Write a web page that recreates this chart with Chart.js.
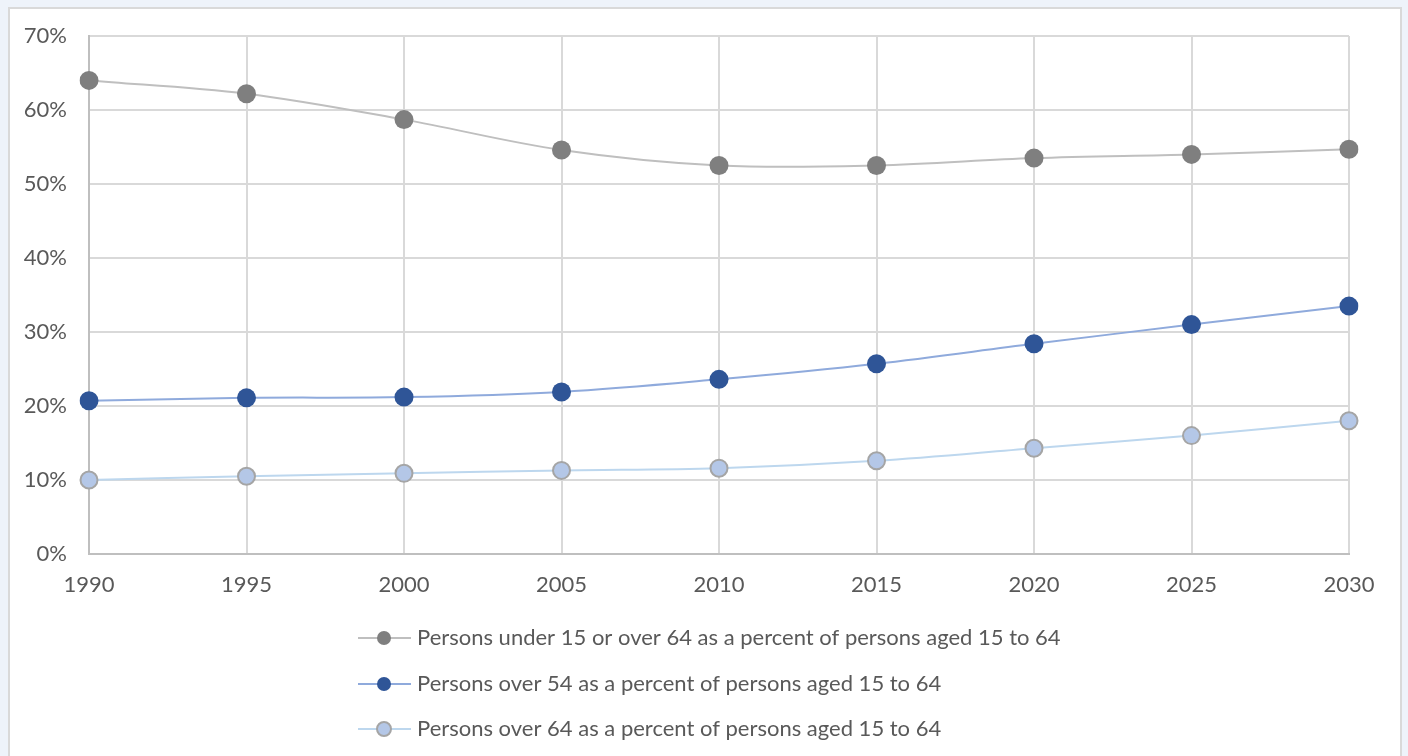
<!DOCTYPE html>
<html>
<head>
<meta charset="utf-8">
<script src="https://cdn.jsdelivr.net/npm/chart.js@4"></script>
<style>
  html, body { margin: 0; padding: 0; background: #eef3fa; }
  #card { position: absolute; left: 8px; top: 7px; width: 1394px; height: 760px; background: #fff; border: 2px solid #d9d9d9; box-sizing: border-box; }
  #wrap { position: absolute; left: 0; top: 0; width: 1408px; height: 756px; }
</style>
</head>
<body>
<div id="card"></div>
<div id="wrap"><canvas id="chart" width="1408" height="756"></canvas></div>
<script>
// years on the x axis
const years = ['1990', '1995', '2000', '2005', '2010', '2015', '2020', '2025', '2030'];

// percent values
const under15Over64 = [64.0, 62.2, 58.7, 54.6, 52.5, 52.5, 53.5, 54.0, 54.7];
const over54 = [20.7, 21.1, 21.2, 21.9, 23.6, 25.7, 28.4, 31.0, 33.5];
const over64 = [10.0, 10.5, 10.9, 11.3, 11.6, 12.6, 14.3, 16.0, 18.0];

const seriesNames = [
  'Persons under 15 or over 64 as a percent of persons aged 15 to 64',
  'Persons over 54 as a percent of persons aged 15 to 64',
  'Persons over 64 as a percent of persons aged 15 to 64'
];

const fontFamily = 'Lato, "Open Sans", sans-serif';
const textColor = '#595959';

// legend drawn under the plot, one row per series, line with marker in the middle
const stackedLegend = {
  id: 'stackedLegend',
  afterDraw(chart) {
    const ctx = chart.ctx;
    const rowsY = [638, 684, 729];
    ctx.save();
    chart.data.datasets.forEach((ds, i) => {
      const y = rowsY[i];
      ctx.strokeStyle = ds.borderColor;
      ctx.lineWidth = 2;
      ctx.beginPath();
      ctx.moveTo(358, y);
      ctx.lineTo(411, y);
      ctx.stroke();
      ctx.beginPath();
      ctx.arc(384, y, 7, 0, Math.PI * 2);
      ctx.fillStyle = ds.pointBackgroundColor;
      ctx.fill();
      if (ds.pointBorderWidth > 0) {
        ctx.lineWidth = ds.pointBorderWidth;
        ctx.strokeStyle = ds.pointBorderColor;
        ctx.stroke();
      }
      ctx.fillStyle = textColor;
      ctx.font = '22px ' + fontFamily;
      ctx.textBaseline = 'middle';
      ctx.textAlign = 'left';
      ctx.fillText(ds.label, 417, y);
    });
    ctx.restore();
  }
};

new Chart(document.getElementById('chart'), {
  type: 'line',
  data: {
    labels: years,
    datasets: [
      {
        label: seriesNames[0],
        data: under15Over64,
        borderColor: '#bfbfbf',
        borderWidth: 2,
        pointBackgroundColor: '#7f7f7f',
        pointBorderColor: '#7f7f7f',
        pointBorderWidth: 0,
        pointRadius: 9.5,
        tension: 0.35
      },
      {
        label: seriesNames[1],
        data: over54,
        borderColor: '#8faadc',
        borderWidth: 2,
        pointBackgroundColor: '#2f5597',
        pointBorderColor: '#2f5597',
        pointBorderWidth: 0,
        pointRadius: 9.5,
        tension: 0.35
      },
      {
        label: seriesNames[2],
        data: over64,
        borderColor: '#bdd7ee',
        borderWidth: 2,
        pointBackgroundColor: '#b4c7e7',
        pointBorderColor: '#a5a5a5',
        pointBorderWidth: 2,
        pointRadius: 8.5,
        tension: 0.35
      }
    ]
  },
  options: {
    responsive: false,
    animation: false,
    layout: { padding: { top: 36, right: 59, left: 0, bottom: 0 } },
    plugins: {
      legend: { display: false },
      tooltip: { enabled: false }
    },
    scales: {
      x: {
        offset: false,
        grid: { color: '#d9d9d9', lineWidth: 2, drawTicks: false },
        border: { color: '#bfbfbf', width: 2 },
        ticks: { color: textColor, font: { family: fontFamily, size: 22 }, padding: 18, maxRotation: 0 },
        afterFit(scale) { scale.height = 202; }
      },
      y: {
        min: 0,
        max: 70,
        grid: { color: '#d9d9d9', lineWidth: 2, drawTicks: false },
        border: { color: '#bfbfbf', width: 2 },
        ticks: {
          stepSize: 10,
          color: textColor,
          font: { family: fontFamily, size: 22 },
          padding: 22,
          callback: v => v + '%'
        },
        afterFit(scale) { scale.width = 89; }
      }
    }
  },
  plugins: [stackedLegend]
});
</script>
</body>
</html>
